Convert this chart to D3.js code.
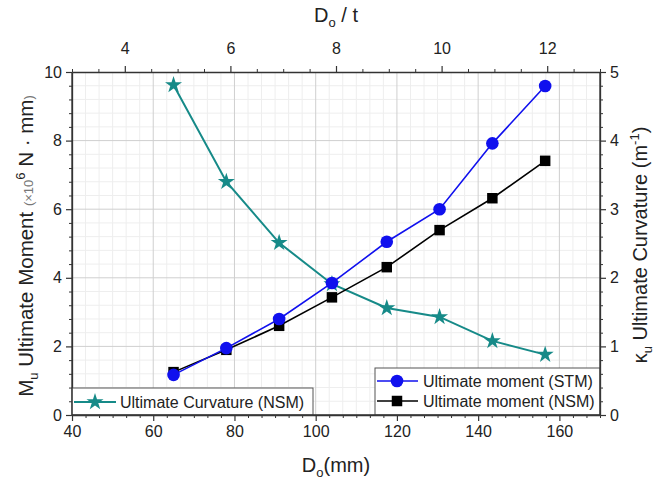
<!DOCTYPE html>
<html><head><meta charset="utf-8">
<script src="https://cdn.jsdelivr.net/npm/d3@7"></script>
<style>body{margin:0;background:#fff}svg{display:block}text{font-family:"Liberation Sans",Arial,sans-serif}</style>
</head><body>
<svg id="c" width="655" height="481"></svg>
<script>
const diameters = [65, 78, 91, 104, 117.5, 130.5, 143.5, 156.5];
const momentSTM = [1.17, 1.95, 2.8, 3.85, 5.05, 6.0, 7.92, 9.59];
const momentNSM = [1.25, 1.9, 2.6, 3.43, 4.31, 5.39, 6.32, 7.41];
const curvatureNSM = [4.81, 3.40, 2.51, 1.91, 1.56, 1.43, 1.08, 0.88];
const bottomTicks = [40, 60, 80, 100, 120, 140, 160];
const topTicks = [4, 6, 8, 10, 12];
const leftTicks = [0, 2, 4, 6, 8, 10];
const rightTicks = [0, 1, 2, 3, 4, 5];
const seriesNames = ["Ultimate moment (STM)", "Ultimate moment (NSM)", "Ultimate Curvature (NSM)"];

const svg = d3.select("#c");
const L = 72, R = 600, T = 72, B = 415;
const x = d3.scaleLinear().domain([40, 170]).range([L, R]);
const xTop = d3.scaleLinear().domain([3, 13]).range([L, R]);
const y = d3.scaleLinear().domain([0, 10]).range([B, T]);
const y2 = d3.scaleLinear().domain([0, 5]).range([B, T]);

const teal = "#168a88", blue = "#1010ee", black = "#000";

// grid
const g = svg.append("g");
const xMinor = d3.range(40, 170.001, 20/6).filter(v => Math.abs((v-40)%20) > 0.01 && Math.abs((v-40)%20 - 20) > 0.01);
const yMinor = d3.range(0, 10.001, 0.4).filter(v => Math.abs(v % 2) > 0.01 && Math.abs(v % 2 - 2) > 0.01);
const y2Minor = d3.range(0, 5.001, 0.2).filter(v => Math.abs(v % 1) > 0.01 && Math.abs(v % 1 - 1) > 0.01);
const topMinor = d3.range(3, 13.001, 0.5).filter(v => Math.abs(v % 2) > 0.01);
g.selectAll(".vm").data(xMinor).join("line").attr("x1", d=>x(d)).attr("x2", d=>x(d)).attr("y1", T).attr("y2", B).attr("stroke", "#eeeeee").attr("stroke-width", 1);
g.selectAll(".hm").data(yMinor).join("line").attr("y1", d=>y(d)).attr("y2", d=>y(d)).attr("x1", L).attr("x2", R).attr("stroke", "#eeeeee").attr("stroke-width", 1);
g.selectAll(".vM").data(bottomTicks.filter(d=>d>40)).join("line").attr("x1", d=>x(d)).attr("x2", d=>x(d)).attr("y1", T).attr("y2", B).attr("stroke", "#cfcfcf").attr("stroke-width", 1);
g.selectAll(".hM").data(leftTicks.filter(d=>d>0 && d<10)).join("line").attr("y1", d=>y(d)).attr("y2", d=>y(d)).attr("x1", L).attr("x2", R).attr("stroke", "#cfcfcf").attr("stroke-width", 1);

// axes
function styleAxis(sel){
  sel.select(".domain").attr("stroke", "#333").attr("stroke-width", 1.3);
  sel.selectAll(".tick line").attr("stroke", "#333").attr("stroke-width", 1.2);
  sel.selectAll("text").attr("font-size", 16).attr("fill", "#222").attr("font-family", '"Liberation Sans",Arial,sans-serif');
}
function minorAxis(axisFn, scale, vals, pos){
  svg.append("g").attr("transform", pos).call(axisFn(scale).tickValues(vals).tickSize(3).tickFormat("")).call(s=>{s.select(".domain").remove(); s.selectAll(".tick line").attr("stroke","#333").attr("stroke-width",1);});
}
minorAxis(d3.axisBottom, x, xMinor, `translate(0,${B})`);
minorAxis(d3.axisTop, xTop, topMinor, `translate(0,${T})`);
minorAxis(d3.axisLeft, y, yMinor, `translate(${L},0)`);
minorAxis(d3.axisRight, y2, y2Minor, `translate(${R},0)`);

svg.append("g").attr("transform", `translate(0,${B})`).call(d3.axisBottom(x).tickValues(bottomTicks).tickSize(6).tickSizeOuter(0).tickPadding(5).tickFormat(d3.format("d"))).call(styleAxis);
svg.append("g").attr("transform", `translate(0,${T})`).call(d3.axisTop(xTop).tickValues(topTicks).tickSize(6).tickSizeOuter(0).tickPadding(12).tickFormat(d3.format("d"))).call(styleAxis);
svg.append("g").attr("transform", `translate(${L},0)`).call(d3.axisLeft(y).tickValues(leftTicks).tickSize(6).tickSizeOuter(0).tickPadding(4).tickFormat(d3.format("d"))).call(styleAxis);
svg.append("g").attr("transform", `translate(${R},0)`).call(d3.axisRight(y2).tickValues(rightTicks).tickSize(6).tickSizeOuter(0).tickPadding(4).tickFormat(d3.format("d"))).call(styleAxis);

// series
const line = (ys, sc) => d3.line().x((d,i)=>x(diameters[i])).y(d=>sc(d))(ys);
svg.append("path").attr("d", line(curvatureNSM, y2)).attr("fill","none").attr("stroke",teal).attr("stroke-width",2);
svg.append("path").attr("d", line(momentNSM, y)).attr("fill","none").attr("stroke",black).attr("stroke-width",1.6);
svg.append("path").attr("d", line(momentSTM, y)).attr("fill","none").attr("stroke",blue).attr("stroke-width",1.6);

const star = d3.symbol().type(d3.symbolStar).size(90);
const sq = d3.symbol().type(d3.symbolSquare).size(110);
const circ = d3.symbol().type(d3.symbolCircle).size(125);
svg.selectAll(".st").data(curvatureNSM).join("path").attr("d", star).attr("transform",(d,i)=>`translate(${x(diameters[i])},${y2(d)})`).attr("fill",teal);
svg.selectAll(".sq").data(momentNSM).join("path").attr("d", sq).attr("transform",(d,i)=>`translate(${x(diameters[i])},${y(d)})`).attr("fill",black);
svg.selectAll(".ci").data(momentSTM).join("path").attr("d", circ).attr("transform",(d,i)=>`translate(${x(diameters[i])},${y(d)})`).attr("fill",blue);

// legends
const lg1 = svg.append("g");
lg1.append("rect").attr("x", L).attr("y", 388).attr("width", 313-L).attr("height", B-388).attr("fill","#fff").attr("stroke","#555").attr("stroke-width",1);
lg1.append("line").attr("x1",74).attr("x2",116).attr("y1",402).attr("y2",402).attr("stroke",teal).attr("stroke-width",2);
lg1.append("path").attr("d",star).attr("transform","translate(95,402)").attr("fill",teal);
lg1.append("text").attr("x",120).attr("y",408).attr("font-size",16).attr("fill","#222").text(seriesNames[2]);

const lg2 = svg.append("g");
lg2.append("rect").attr("x", 375).attr("y", 368).attr("width", R-375).attr("height", B-368).attr("fill","#fff").attr("stroke","#555").attr("stroke-width",1);
lg2.append("line").attr("x1",377).attr("x2",418).attr("y1",381).attr("y2",381).attr("stroke",blue).attr("stroke-width",1.6);
lg2.append("path").attr("d",circ).attr("transform","translate(397,381)").attr("fill",blue);
lg2.append("text").attr("x",423).attr("y",387).attr("font-size",16).attr("fill","#222").text(seriesNames[0]);
lg2.append("line").attr("x1",377).attr("x2",418).attr("y1",401).attr("y2",401).attr("stroke",black).attr("stroke-width",1.6);
lg2.append("path").attr("d",sq).attr("transform","translate(397,401)").attr("fill",black);
lg2.append("text").attr("x",423).attr("y",407).attr("font-size",16).attr("fill","#222").text(seriesNames[1]);

// redraw axis lines over legend boxes
svg.append("line").attr("x1",L).attr("x2",R).attr("y1",B).attr("y2",B).attr("stroke","#333").attr("stroke-width",1.3);
svg.append("line").attr("x1",L).attr("x2",L).attr("y1",T).attr("y2",B).attr("stroke","#333").attr("stroke-width",1.3);
svg.append("line").attr("x1",R).attr("x2",R).attr("y1",T).attr("y2",B).attr("stroke","#333").attr("stroke-width",1.3);

// titles
const bt = svg.append("text").attr("x", 336).attr("y", 472).attr("text-anchor","middle").attr("font-size",20).attr("fill","#222");
bt.append("tspan").text("D");
bt.append("tspan").attr("font-size",13).attr("dy",5).text("o");
bt.append("tspan").attr("dy",-5).text("(mm)");

const tt = svg.append("text").attr("x", 336).attr("y", 22).attr("text-anchor","middle").attr("font-size",20).attr("fill","#222");
tt.append("tspan").text("D");
tt.append("tspan").attr("font-size",13).attr("dy",5).text("o");
tt.append("tspan").attr("dy",-5).text(" / t");

const lt = svg.append("text").attr("transform","translate(33,246) rotate(-90)").attr("text-anchor","middle").attr("font-size",20.5).attr("fill","#222");
lt.append("tspan").text("M");
lt.append("tspan").attr("font-size",13).attr("dy",5).text("u");
lt.append("tspan").attr("dy",-5).text(" Ultimate Moment ");
lt.append("tspan").attr("font-size",13).attr("fill","#777").text("(×10");
lt.append("tspan").attr("font-size",13).attr("dy",-8).text("6");
lt.append("tspan").attr("dy",8).text(" N · mm");
lt.append("tspan").attr("font-size",13).attr("fill","#777").text(")");

const rt = svg.append("text").attr("transform","translate(647,245) rotate(-90)").attr("text-anchor","middle").attr("font-size",20).attr("fill","#222");
rt.append("tspan").text("κ");
rt.append("tspan").attr("font-size",13).attr("dy",5).text("u");
rt.append("tspan").attr("dy",-5).text(" Ultimate Curvature (m");
rt.append("tspan").attr("font-size",13).attr("dy",-8).text("-1");
rt.append("tspan").attr("dy",8).text(")");
</script>
</body></html>
